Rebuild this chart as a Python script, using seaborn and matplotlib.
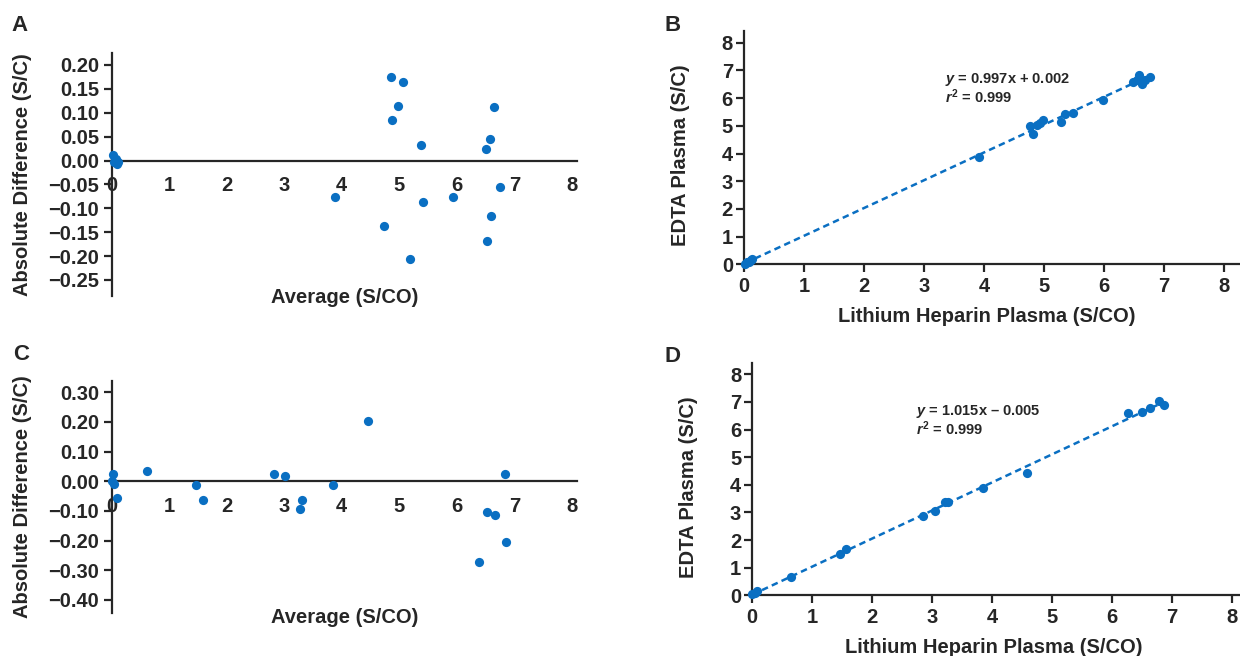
import numpy as np
import pandas as pd
import matplotlib
matplotlib.use("Agg")
import matplotlib.pyplot as plt
import seaborn as sns
from matplotlib.ticker import FuncFormatter

sns.set_style("ticks")
plt.rcParams['font.family'] = ['Liberation Sans', 'DejaVu Sans']
plt.rcParams['font.weight'] = 'bold'
plt.rcParams['axes.labelweight'] = 'bold'
plt.rcParams['mathtext.fontset'] = 'custom'
plt.rcParams['mathtext.it'] = 'Liberation Sans:italic:bold'
plt.rcParams['mathtext.rm'] = 'Liberation Sans:bold'
plt.rcParams['mathtext.bf'] = 'Liberation Sans:bold'

BLUE = '#0a6fc2'

# Panel A: Bland-Altman, average vs difference
a_avg = [0.02, 0.05, 0.07, 0.09, 0.11, 0.04,
         4.85, 5.07, 4.97, 4.88, 5.37, 6.64, 6.58, 6.51, 6.75, 3.88,
         5.42, 5.93, 4.73, 6.59, 6.53, 5.18]
a_diff = [0.012, 0.0, 0.004, -0.008, -0.004, -0.003,
          0.174, 0.164, 0.114, 0.084, 0.033, 0.113, 0.044, 0.024, -0.056, -0.077,
          -0.086, -0.077, -0.137, -0.116, -0.168, -0.206]

# Panel B: lithium heparin vs EDTA
b_lh = [0.02, 0.05, 0.08, 0.11, 0.14,
        3.91, 4.76, 4.81, 4.89, 4.94, 4.99, 5.29, 5.35, 5.49, 5.98,
        6.48, 6.55, 6.59, 6.63, 6.68, 6.77]
b_edta = [0.02, 0.07, 0.1, 0.14, 0.18,
          3.87, 4.98, 4.70, 5.02, 5.10, 5.22, 5.13, 5.44, 5.47, 5.95,
          6.57, 6.64, 6.82, 6.52, 6.64, 6.77]
b_eq = "$y$ = 0.997x + 0.002\n$r^2$ = 0.999"

# Panel C
c_avg = [0.03, 0.0, 0.04, 0.10, 0.62, 1.46, 1.59, 2.82, 3.02, 3.30, 3.27,
         3.84, 4.46, 6.83, 6.53, 6.67, 6.85, 6.39]
c_diff = [0.024, 0.002, -0.009, -0.057, 0.035, -0.013, -0.064, 0.026, 0.017,
          -0.063, -0.095, -0.013, 0.204, 0.026, -0.103, -0.114, -0.203, -0.273]

# Panel D
d_lh = [0.0, 0.05, 0.08, 0.64, 1.46, 1.57, 2.84, 3.04, 3.21, 3.27, 3.85,
        4.58, 6.26, 6.49, 6.63, 6.78, 6.86]
d_edta = [0.04, 0.1, 0.14, 0.66, 1.49, 1.67, 2.86, 3.06, 3.36, 3.39, 3.89,
          4.41, 6.59, 6.63, 6.77, 7.02, 6.88]
d_eq = "$y$ = 1.015x \u2013 0.005\n$r^2$ = 0.999"

TICK = 14.5
LAB = 14.5


def fmt2(v, pos):
    s = "%.2f" % v
    if s == "-0.00":
        s = "0.00"
    return s.replace('-', '\u2212')


def bland(ax, x, y, ylim, yticks, lab_y):
    df = pd.DataFrame({'avg': x, 'diff': y})
    sns.scatterplot(data=df, x='avg', y='diff', ax=ax, color=BLUE, s=44,
                    linewidth=0, clip_on=False, zorder=3)
    ax.set_xlim(0, 8.09)
    ax.set_ylim(*ylim)
    ax.spines['top'].set_visible(False)
    ax.spines['right'].set_visible(False)
    ax.spines['bottom'].set_position(('data', 0))
    ax.spines['left'].set_linewidth(1.6)
    ax.spines['bottom'].set_linewidth(1.6)
    ax.set_xticks(range(0, 9))
    ax.set_yticks(yticks)
    ax.yaxis.set_major_formatter(FuncFormatter(fmt2))
    ax.tick_params(axis='x', length=0, pad=11, labelsize=TICK)
    ax.tick_params(axis='y', length=6, width=1.6, pad=3, labelsize=TICK)
    ax.set_xlabel('Average (S/CO)', fontsize=LAB)
    ax.set_ylabel('Absolute Difference (S/C)', fontsize=LAB)
    ax.xaxis.set_label_coords(0.5, lab_y)
    ax.yaxis.set_label_coords(-0.172, 0.5)


def corr(ax, x, y, xlim, eq, eq_pos, ylab_pos, xlab_pos):
    df = pd.DataFrame({'lh': x, 'edta': y})
    sns.regplot(data=df, x='lh', y='edta', ax=ax, scatter=False, ci=None,
                truncate=True, color=BLUE,
                line_kws={'lw': 1.8, 'linestyle': (0, (2.6, 1.7))})
    sns.scatterplot(data=df, x='lh', y='edta', ax=ax, color=BLUE, s=44,
                    linewidth=0, clip_on=False, zorder=3)
    ax.set_xlim(*xlim)
    ax.set_ylim(0, 8.42)
    ax.spines['top'].set_visible(False)
    ax.spines['right'].set_visible(False)
    ax.spines['left'].set_linewidth(1.6)
    ax.spines['bottom'].set_linewidth(1.6)
    ax.set_xticks(range(0, 9))
    ax.set_yticks(range(0, 9))
    ax.tick_params(axis='both', length=6, width=1.6, labelsize=TICK)
    ax.tick_params(axis='x', pad=3)
    ax.tick_params(axis='y', pad=2)
    ax.set_xlabel('Lithium Heparin Plasma (S/CO)', fontsize=LAB)
    ax.set_ylabel('EDTA Plasma (S/C)', fontsize=LAB)
    ax.xaxis.set_label_coords(*xlab_pos)
    ax.yaxis.set_label_coords(*ylab_pos)
    ax.text(eq_pos[0], eq_pos[1], eq, fontsize=10.5, va='center', ha='left',
            linespacing=0.95)


fig = plt.figure(figsize=(12.4, 6.56), dpi=100)
axA = fig.add_axes([0.0901, 0.5488, 0.3752, 0.3709])
axB = fig.add_axes([0.6, 0.597, 0.3992, 0.3556])
axC = fig.add_axes([0.0901, 0.0655, 0.3752, 0.3541])
axD = fig.add_axes([0.6067, 0.0925, 0.3933, 0.3546])

bland(axA, a_avg, a_diff, (-0.2835, 0.2257), np.arange(-0.25, 0.201, 0.05), 0.033)
bland(axC, c_avg, c_diff, (-0.444, 0.339), np.arange(-0.40, 0.301, 0.10), 0.02)
corr(axB, b_lh, b_edta, (0, 8.25), b_eq, (3.35, 6.35), (-0.109, 0.47), (0.49, -0.183))
corr(axD, d_lh, d_edta, (0, 8.13), d_eq, (2.73, 6.33), (-0.111, 0.466), (0.496, -0.184))

for lbl, x, y in [('A', 11, 15), ('B', 665, 15), ('C', 13, 344), ('D', 665, 346)]:
    fig.text(x / 1240, 1 - y / 656, lbl, fontsize=16, fontweight='bold',
             ha='left', va='top')

fig.savefig('out.png', dpi=100)
